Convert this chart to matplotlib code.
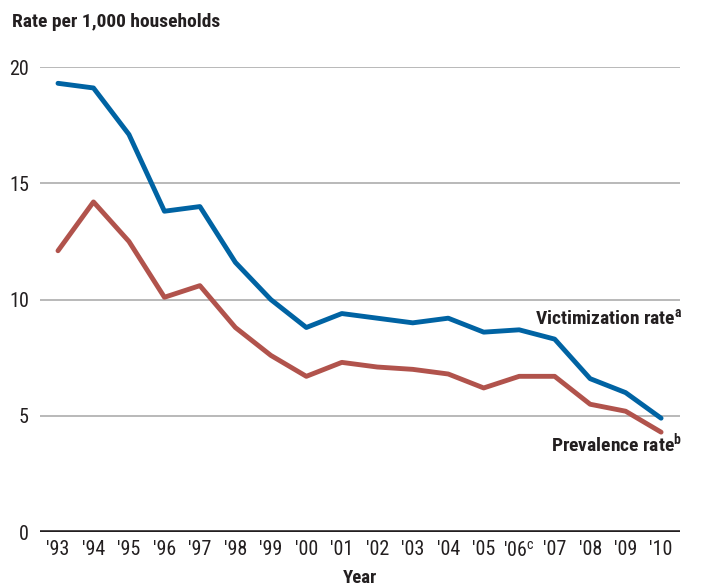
import matplotlib
matplotlib.use("Agg")
import matplotlib.pyplot as plt

plt.rcParams['font.family'] = ['Liberation Sans Narrow', 'Roboto Condensed', 'DejaVu Sans Condensed',
                               'Open Sans Condensed', 'Noto Sans Condensed', 'Liberation Sans']
plt.rcParams['mathtext.default'] = 'regular'

years = ["'93", "'94", "'95", "'96", "'97", "'98", "'99", "'00", "'01",
         "'02", "'03", "'04", "'05", "'06$^{c}$", "'07", "'08", "'09", "'10"]
victimization = [19.3, 19.1, 17.1, 13.8, 14.0, 11.6, 10.0, 8.8, 9.4,
                 9.2, 9.0, 9.2, 8.6, 8.7, 8.3, 6.6, 6.0, 4.9]
prevalence = [12.1, 14.2, 12.5, 10.1, 10.6, 8.8, 7.6, 6.7, 7.3,
              7.1, 7.0, 6.8, 6.2, 6.7, 6.7, 5.5, 5.2, 4.3]
yticks = [0, 5, 10, 15, 20]

blue = '#0063a3'
red = '#b1534c'

fig = plt.figure(figsize=(7.02, 5.88), dpi=100)
ax = fig.add_axes([0.057, 0.095, 0.912, 0.791])

x = list(range(len(years)))
for t in yticks[1:]:
    ax.axhline(t, color='#b3b3b3', lw=1.3, zorder=1)
ax.axhline(0, color='#231f20', lw=2.6, zorder=3)

ax.plot(x, victimization, color=blue, lw=3.5, zorder=4, solid_capstyle='round')
ax.plot(x, prevalence, color=red, lw=3.5, zorder=4, solid_capstyle='round')

ax.set_xlim(-0.507, 17.54)
ax.set_ylim(0, 20)
ax.set_xticks(x)
ax.set_xticklabels(years, fontsize=14.5, color='#231f20')
ax.set_yticks(yticks)
ax.set_yticklabels([str(v) for v in yticks], fontsize=14.5, color='#231f20')
ax.tick_params(length=0, pad=6)
ax.tick_params(axis='y', pad=8)
for s in ax.spines.values():
    s.set_visible(False)

fig.text(0.017, 0.962, 'Rate per 1,000 households', fontsize=14, fontweight='bold',
         color='#231f20', va='center', ha='left')
fig.text(0.513, 0.017, 'Year', fontsize=13.5, fontweight='bold', color='#231f20',
         va='center', ha='center')

ax.text(17.6, 9.2, 'Victimization rate$^{a}$', fontsize=14, fontweight='bold',
        color='#231f20', ha='right', va='center')
ax.text(17.6, 3.8, 'Prevalence rate$^{b}$', fontsize=14, fontweight='bold',
        color='#231f20', ha='right', va='center')

fig.savefig('out.png', dpi=100)
